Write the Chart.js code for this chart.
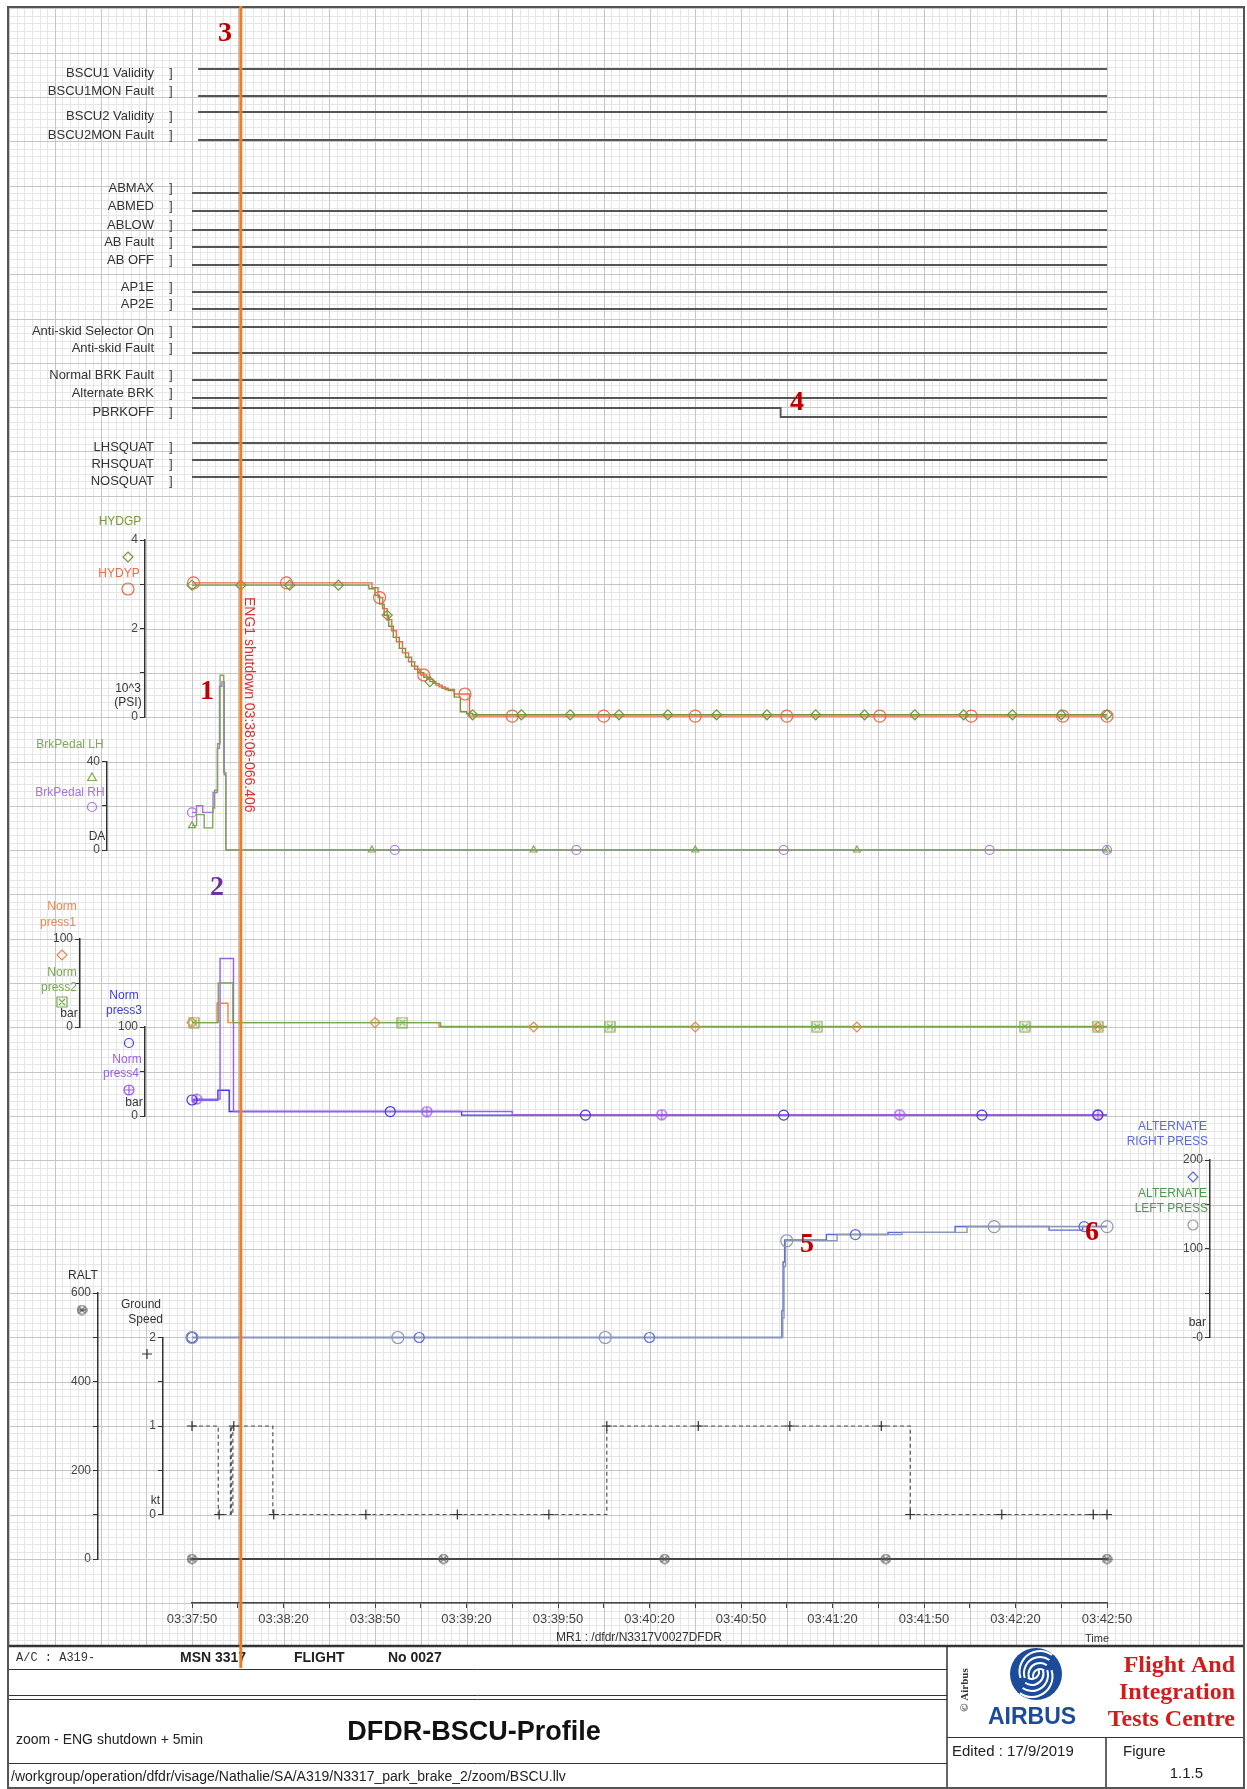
<!DOCTYPE html>
<html>
<head>
<meta charset="utf-8">
<title>DFDR-BSCU-Profile</title>
<script src="https://cdn.jsdelivr.net/npm/chart.js@4.4.1/dist/chart.umd.min.js"></script>
<style>
  html, body { margin: 0; padding: 0; background: #fff; overflow: hidden; }
  #chart { display: block; }
</style>
</head>
<body>
<canvas id="chart" width="1247" height="1789"></canvas>
<script>
// ---------- data (time = seconds after 03:37:50) ----------
const timeLabels = ['03:37:50', '03:38:20', '03:38:50', '03:39:20', '03:39:50', '03:40:20',
                    '03:40:50', '03:41:20', '03:41:50', '03:42:20', '03:42:50'];
const eventTime = 16;   // 03:38:06
const eventLabel = 'ENG1 shutdown 03:38:06-066.406';

const discreteNames = ['BSCU1 Validity', 'BSCU1MON Fault', 'BSCU2 Validity', 'BSCU2MON Fault',
  'ABMAX', 'ABMED', 'ABLOW', 'AB Fault', 'AB OFF', 'AP1E', 'AP2E',
  'Anti-skid Selector On', 'Anti-skid Fault', 'Normal BRK Fault', 'Alternate BRK', 'PBRKOFF',
  'LHSQUAT', 'RHSQUAT', 'NOSQUAT'];
// [time, state] changes of each discrete
const discreteSteps = [
  [[2, 1]], [[2, 0]], [[2, 1]], [[2, 0]],
  [[0, 0]], [[0, 0]], [[0, 0]], [[0, 0]], [[0, 0]], [[0, 0]], [[0, 0]],
  [[0, 1]], [[0, 0]], [[0, 0]], [[0, 0]], [[0, 1], [193, 0]],
  [[0, 1]], [[0, 1]], [[0, 1]]
];

// hydraulic pressures (10^3 PSI)
const hydgpT = [0, 56, 58, 60, 61.5, 63, 64.5, 66, 68, 70, 72, 74, 76, 78, 80, 82, 84, 86, 88, 90, 92, 300];
const hydgpV = [2.98, 2.98, 2.9, 2.75, 2.55, 2.3, 2.05, 1.8, 1.55, 1.35, 1.15, 1.0, 0.9, 0.8, 0.72, 0.65, 0.6, 0.45, 0.12, 0.08, 0.05, 0.05];
const hydgpMarks = [0, 16, 32, 48, 64, 78, 92, 108, 124, 140, 156, 172, 188.5, 204.5, 220.5, 237, 253, 269, 285, 300];
const hydypT = [0, 57, 59, 61, 62.5, 64, 65.5, 67, 69, 71, 73, 75, 77, 79, 81, 83, 86, 91, 300];
const hydypV = [3.03, 3.03, 2.92, 2.7, 2.45, 2.2, 1.95, 1.7, 1.45, 1.25, 1.08, 0.95, 0.85, 0.76, 0.68, 0.62, 0.52, 0.02, 0.02];
const hydypMarks = [0.5, 31, 61.5, 76, 89.5, 105, 135, 165, 195, 225.5, 255.5, 285.5, 300];

// brake pedals (DA)
const pedalLhT = [0, 1.5, 4, 6.8, 7.4, 8.4, 9.2, 10.4, 11.1, 300];
const pedalLhV = [11, 16, 10, 19, 27, 48, 79, 35, 0, 0];
const pedalLhMarks = [0, 59, 112, 165, 218, 300];
const pedalRhT = [0, 1.5, 3.5, 6.9, 8.3, 9.0, 9.8, 10.6, 11.1, 300];
const pedalRhV = [17, 20, 17, 26, 46, 74, 76, 34, 0, 0];
const pedalRhMarks = [0, 66.5, 126, 194, 261.5, 300];

// normal brake pressures (bar)
const press1T = [0, 8.2, 11.8, 81, 300];
const press1V = [5, 27, 5, 0, 0];
const press1Marks = [0, 60, 112, 165, 218, 297];
const press2T = [0, 8.6, 13.4, 81.5, 300];
const press2V = [5, 50, 5, 0.5, 0.5];
const press2Marks = [0.6, 69, 137, 205, 273, 297];
const press3T = [0, 8.5, 12.2, 88.4, 300];
const press3V = [18, 29, 5, 1, 1];
const press3Marks = [0, 65, 129, 194, 259, 297];
const press4T = [0, 0.8, 9.2, 13.6, 105, 300];
const press4V = [16, 19, 177, 5, 1.5, 1.5];
const press4Marks = [1.5, 77, 154, 232, 297];

// alternate brake pressures (bar)
const altRightT = [0, 193, 193.4, 193.8, 194.3, 208, 228.2, 250.2, 281, 292, 300];
const altRightV = [0, 0, 30, 85, 110, 116, 118.5, 125, 121, 125, 125];
const altRightMarks = [0, 74.5, 150, 217.5, 292.5];
const altLeftT = [0, 193.3, 193.7, 194.1, 194.6, 211.5, 232.8, 254.1, 300];
const altLeftV = [0, 0, 22, 80, 109, 116, 118.5, 125, 125];
const altLeftMarks = [0, 67.5, 135.5, 195, 263, 300];

// radio altitude and ground speed
const raltT = [0, 300];
const raltV = [0, 0];
const raltMarks = [0, 82.5, 155, 227.5, 300];
const gsT = [0, 8.6, 12.6, 12.9, 13.4, 26.5, 136, 235.5, 300];
const gsV = [1, 0, 1, 0, 1, 0, 1, 0, 0];
const gsMarks = [0, 8.9, 13.7, 26.8, 57, 87, 117, 136, 166, 196, 226, 235.5, 265.5, 295.5, 300];

// axis ticks
const hydTicks = [0, 1, 2, 3, 4];                 const hydTickLabels = ['0', '', '2', '', '4'];
const pedalTicks = [0, 20, 40];                   const pedalTickLabels = ['0', '', '40'];
const pressTicks = [0, 50, 100];                  const pressTickLabels = ['0', '', '100'];
const altTicks = [0, 50, 100, 150, 200];          const altTickLabels = ['-0', '', '100', '', '200'];
const raltTicks = [0, 100, 200, 300, 400, 500, 600]; const raltTickLabels = ['0', '', '200', '', '400', '', '600'];
const gsTicks = [0, 0.5, 1, 1.5, 2];              const gsTickLabels = ['0', '', '1', '', '2'];

// ---------- layout / styles ----------
const FONT = '"Liberation Sans", Arial, sans-serif';
const SERIF = '"Liberation Serif", "Times New Roman", serif';
const PAGE = {left: 8, top: 7, right: 1244, bottom: 1788, gridBottom: 1646};
const GRID_Y0 = 540, GRID_STEP = 44.3;

const C = {
  disc: '#555', axis: '#333',
  hydgp: '#76983a', hydyp: '#ea6a4a',
  lh: '#7fa858', rh: '#a970e6',
  p1: '#e8884a', p2: '#78a84c', p3: '#3c3ce0', p4: '#9c5ce8',
  altR: '#5a6ad6', altL: '#8a98b4', altLtxt: '#4c9a4c',
  ralt: '#444', gs: '#555', orange: '#f27c26'
};

const axisBoxes = {
  x:       {left: 192, right: 1107, top: 1603, bottom: 1640},
  yHyd:    {left: 95, right: 145, top: 540, bottom: 717},
  yPedal:  {left: 60, right: 107, top: 761.5, bottom: 850},
  yNorm12: {left: 30, right: 80, top: 939, bottom: 1027},
  yNorm34: {left: 95, right: 145, top: 1027, bottom: 1116},
  yAlt:    {left: 1160, right: 1210, top: 1160, bottom: 1337.5},
  yRalt:   {left: 48, right: 98, top: 1293, bottom: 1559},
  yGs:     {left: 120, right: 163, top: 1337.5, bottom: 1514.5}
};
const discreteRowY = [73.5, 91.5, 116.5, 135.5, 188.5, 206.5, 225.5, 242.5, 260.5, 287.5, 304.5,
  331.5, 348.5, 375.5, 393.5, 412.5, 447.5, 464.5, 481.5];
discreteRowY.forEach((c, i) => {
  axisBoxes['yD' + i] = {left: 150, right: 190, top: c - 4.5, bottom: c + 4.5};
});

// composite marker glyphs
function glyph(kind, color, size) {
  const c = document.createElement('canvas');
  c.width = c.height = size;
  const g = c.getContext('2d');
  const m = size / 2, r = size / 2 - 1;
  g.strokeStyle = color;
  g.lineWidth = 1.2;
  g.beginPath();
  if (kind === 'boxX') {
    g.rect(m - r, m - r, 2 * r, 2 * r);
    g.moveTo(m - r + 2, m - r + 2); g.lineTo(m + r - 2, m + r - 2);
    g.moveTo(m + r - 2, m - r + 2); g.lineTo(m - r + 2, m + r - 2);
  } else if (kind === 'circleX') {
    g.arc(m, m, r, 0, Math.PI * 2);
    g.moveTo(m - r * 0.7, m - r * 0.7); g.lineTo(m + r * 0.7, m + r * 0.7);
    g.moveTo(m + r * 0.7, m - r * 0.7); g.lineTo(m - r * 0.7, m + r * 0.7);
    g.moveTo(m - r, m); g.lineTo(m + r, m);
  } else {
    g.arc(m, m, r, 0, Math.PI * 2);
    g.moveTo(m - r, m); g.lineTo(m + r, m);
    g.moveTo(m, m - r); g.lineTo(m, m + r);
  }
  g.stroke();
  return c;
}
const boxXGreen = glyph('boxX', C.p2, 12);
const plusPurple = glyph('circlePlus', C.p4, 12);
const raltGlyph = glyph('circleX', '#555', 11);

function valueAt(t, v, x) {
  let y = v[0];
  for (let i = 0; i < t.length; i++) {
    if (t[i] <= x) y = v[i];
  }
  return y;
}

function trace(label, t, v, axis, color, extra) {
  return Object.assign({
    label, data: t.map((x, i) => ({x, y: v[i]})),
    xAxisID: 'x', yAxisID: axis, borderColor: color, borderWidth: 1.4,
    stepped: true, pointRadius: 0, fill: false, clip: false
  }, extra || {});
}

function marks(label, t, v, times, axis, color, style, r) {
  return {
    label, data: times.map(m => ({x: m, y: valueAt(t, v, m)})),
    xAxisID: 'x', yAxisID: axis, showLine: false, clip: false,
    pointStyle: style, pointRadius: r, pointBorderColor: color,
    pointBackgroundColor: 'rgba(0,0,0,0)', pointBorderWidth: 1.2
  };
}

const datasets = [
  marks('HYDGP', hydgpT, hydgpV, hydgpMarks, 'yHyd', C.hydgp, 'rectRot', 5),
  marks('HYDYP', hydypT, hydypV, hydypMarks, 'yHyd', C.hydyp, 'circle', 6),
  marks('BrkPedal LH', pedalLhT, pedalLhV, pedalLhMarks, 'yPedal', C.lh, 'triangle', 4),
  marks('BrkPedal RH', pedalRhT, pedalRhV, pedalRhMarks, 'yPedal', C.rh, 'circle', 4.5),
  marks('Norm press1', press1T, press1V, press1Marks, 'yNorm12', C.p1, 'rectRot', 5),
  marks('Norm press2', press2T, press2V, press2Marks, 'yNorm12', C.p2, boxXGreen, 6),
  marks('Norm press3', press3T, press3V, press3Marks, 'yNorm34', C.p3, 'circle', 5),
  marks('Norm press4', press4T, press4V, press4Marks, 'yNorm34', C.p4, plusPurple, 6),
  marks('ALTERNATE RIGHT PRESS', altRightT, altRightV, altRightMarks, 'yAlt', C.altR, 'circle', 5),
  marks('ALTERNATE LEFT PRESS', altLeftT, altLeftV, altLeftMarks, 'yAlt', C.altL, 'circle', 6),
  marks('RALT', raltT, raltV, raltMarks, 'yRalt', '#555', raltGlyph, 5),
  marks('Ground Speed', gsT, gsV, gsMarks, 'yGs', '#333', 'cross', 5),
  trace('HYDYP', hydypT, hydypV, 'yHyd', C.hydyp),
  trace('HYDGP', hydgpT, hydgpV, 'yHyd', C.hydgp),
  trace('BrkPedal LH', pedalLhT, pedalLhV, 'yPedal', C.lh),
  trace('BrkPedal RH', pedalRhT, pedalRhV, 'yPedal', C.rh),
  trace('Norm press2', press2T, press2V, 'yNorm12', C.p2),
  trace('Norm press1', press1T, press1V, 'yNorm12', C.p1),
  trace('Norm press4', press4T, press4V, 'yNorm34', C.p4),
  trace('Norm press3', press3T, press3V, 'yNorm34', C.p3),
  trace('ALTERNATE LEFT PRESS', altLeftT, altLeftV, 'yAlt', C.altL),
  trace('ALTERNATE RIGHT PRESS', altRightT, altRightV, 'yAlt', C.altR),
  trace('RALT', raltT, raltV, 'yRalt', C.ralt, {borderWidth: 1.8}),
  trace('Ground Speed', gsT, gsV, 'yGs', C.gs, {borderDash: [4, 3], borderWidth: 1.2})
];

discreteNames.forEach((name, i) => {
  const steps = discreteSteps[i];
  const pts = steps.map(s => ({x: s[0], y: s[1]}));
  pts.push({x: 300, y: steps[steps.length - 1][1]});
  datasets.push({
    label: name, data: pts, xAxisID: 'x', yAxisID: 'yD' + i,
    borderColor: C.disc, borderWidth: 1.8, stepped: true, pointRadius: 0, clip: false
  });
});

function yAxis(ticks, labels) {
  return {
    type: 'linear', axis: 'y', position: 'left',
    min: ticks[0], max: ticks[ticks.length - 1],
    afterBuildTicks: s => { s.ticks = ticks.map(v => ({value: v})); },
    ticks: {
      autoSkip: false, padding: 2, color: '#444',
      font: {size: 12, family: FONT},
      callback: v => labels[ticks.indexOf(v)]
    },
    grid: {drawOnChartArea: false, drawTicks: true, tickLength: 5, color: C.axis, lineWidth: 1},
    border: {display: true, color: C.axis, width: 1.5}
  };
}

const scales = {
  x: {
    type: 'linear', position: 'bottom', min: 0, max: 300,
    afterBuildTicks: s => {
      const list = [];
      for (let v = 0; v <= 300; v += 15) list.push({value: v});
      s.ticks = list;
    },
    ticks: {
      autoSkip: false, maxRotation: 0, minRotation: 0, padding: 4, color: '#444',
      font: {size: 13, family: FONT},
      callback: v => (v % 30 === 0 ? timeLabels[v / 30] : '')
    },
    grid: {drawOnChartArea: false, drawTicks: true, tickLength: 5, color: '#444', lineWidth: 1},
    border: {display: true, color: '#444', width: 1.5}
  },
  yHyd: yAxis(hydTicks, hydTickLabels),
  yPedal: yAxis(pedalTicks, pedalTickLabels),
  yNorm12: yAxis(pressTicks, pressTickLabels),
  yNorm34: yAxis(pressTicks, pressTickLabels),
  yAlt: yAxis(altTicks, altTickLabels),
  yRalt: yAxis(raltTicks, raltTickLabels),
  yGs: yAxis(gsTicks, gsTickLabels)
};
discreteNames.forEach((n, i) => {
  scales['yD' + i] = {type: 'linear', axis: 'y', position: 'left', min: 0, max: 1, display: false};
});

// ---------- plugins ----------
// every axis of the printout sits at its own place on the sheet
const placeAxes = {
  id: 'placeAxes',
  afterLayout(chart) {
    for (const id of Object.keys(axisBoxes)) {
      const s = chart.scales[id];
      const b = axisBoxes[id];
      if (!s) continue;
      s.left = b.left; s.right = b.right; s.top = b.top; s.bottom = b.bottom;
      s.width = b.right - b.left; s.height = b.bottom - b.top;
      s.configure();
    }
    chart.chartArea = {left: 0, top: 0, right: chart.width, bottom: chart.height,
                       width: chart.width, height: chart.height};
  }
};

function hline(ctx, x1, x2, y) { ctx.beginPath(); ctx.moveTo(x1, y); ctx.lineTo(x2, y); ctx.stroke(); }
function vline(ctx, x, y1, y2) { ctx.beginPath(); ctx.moveTo(x, y1); ctx.lineTo(x, y2); ctx.stroke(); }

function text(ctx, str, x, y, font, color, align) {
  ctx.font = font;
  ctx.fillStyle = color;
  ctx.textAlign = align || 'left';
  ctx.textBaseline = 'middle';
  ctx.fillText(str, x, y);
}

function drawSymbol(ctx, style, x, y, r, color) {
  ctx.save();
  if (style instanceof HTMLCanvasElement) {
    ctx.drawImage(style, x - style.width / 2, y - style.height / 2);
    ctx.restore();
    return;
  }
  ctx.strokeStyle = color;
  ctx.lineWidth = 1.2;
  ctx.beginPath();
  if (style === 'circle') {
    ctx.arc(x, y, r, 0, Math.PI * 2);
  } else if (style === 'rectRot') {
    ctx.moveTo(x, y - r); ctx.lineTo(x + r, y); ctx.lineTo(x, y + r); ctx.lineTo(x - r, y); ctx.closePath();
  } else if (style === 'triangle') {
    ctx.moveTo(x, y - r); ctx.lineTo(x + r * 0.87, y + r * 0.5); ctx.lineTo(x - r * 0.87, y + r * 0.5); ctx.closePath();
  } else if (style === 'cross') {
    ctx.moveTo(x - r, y); ctx.lineTo(x + r, y); ctx.moveTo(x, y - r); ctx.lineTo(x, y + r);
  }
  ctx.stroke();
  ctx.restore();
}

const paper = {
  id: 'paper',
  beforeDraw(chart) {
    const ctx = chart.ctx;
    const xs = chart.scales.x;
    ctx.save();
    ctx.fillStyle = '#fff';
    ctx.fillRect(0, 0, chart.width, chart.height);

    // graph paper: one line per 2.5 s, darker every 15 s
    ctx.lineWidth = 1;
    for (const major of [false, true]) {
      ctx.strokeStyle = major ? '#c6c6c6' : '#e6e6e6';
      for (let k = -30; k <= 140; k++) {
        if ((k % 6 === 0) !== major) continue;
        const px = Math.round(xs.getPixelForValue(k * 2.5)) + 0.5;
        if (px <= PAGE.left || px >= PAGE.right) continue;
        vline(ctx, px, PAGE.top, PAGE.gridBottom);
      }
      for (let k = -80; k <= 160; k++) {
        if ((k % 6 === 0) !== major) continue;
        const py = Math.round(GRID_Y0 + k * GRID_STEP / 6) + 0.5;
        if (py <= PAGE.top || py >= PAGE.gridBottom) continue;
        hline(ctx, PAGE.left, PAGE.right, py);
      }
    }

    // title block
    ctx.fillStyle = '#fff';
    ctx.fillRect(PAGE.left, PAGE.gridBottom, PAGE.right - PAGE.left, PAGE.bottom - PAGE.gridBottom);
    ctx.strokeStyle = '#333';
    ctx.lineWidth = 2.5;
    hline(ctx, PAGE.left, PAGE.right, PAGE.gridBottom);
    ctx.lineWidth = 1;
    hline(ctx, PAGE.left, 947, 1669.5);
    hline(ctx, PAGE.left, 947, 1695.5);
    hline(ctx, PAGE.left, 947, 1699.5);
    hline(ctx, PAGE.left, 947, 1763.5);
    hline(ctx, 947, PAGE.right, 1737.5);
    ctx.lineWidth = 1.5;
    vline(ctx, 947, PAGE.gridBottom, PAGE.bottom);
    vline(ctx, 1106, 1737.5, PAGE.bottom);

    // sheet border
    ctx.strokeStyle = '#555';
    ctx.lineWidth = 2;
    ctx.strokeRect(PAGE.left, PAGE.top, PAGE.right - PAGE.left, PAGE.bottom - PAGE.top);

    // title block texts
    text(ctx, 'A/C : A319-', 16, 1658, '12px "Liberation Mono", monospace', '#333');
    text(ctx, 'MSN 3317', 180, 1658, 'bold 14px ' + FONT, '#222');
    text(ctx, 'FLIGHT', 294, 1658, 'bold 14px ' + FONT, '#222');
    text(ctx, 'No 0027', 388, 1658, 'bold 14px ' + FONT, '#222');
    text(ctx, 'zoom - ENG shutdown + 5min', 16, 1740, '14px ' + FONT, '#222');
    text(ctx, 'DFDR-BSCU-Profile', 474, 1733, 'bold 27px ' + FONT, '#111', 'center');
    text(ctx, '/workgroup/operation/dfdr/visage/Nathalie/SA/A319/N3317_park_brake_2/zoom/BSCU.llv',
         11, 1777, '14px ' + FONT, '#222');
    text(ctx, 'Edited : 17/9/2019', 952, 1752, '15px ' + FONT, '#222');
    text(ctx, 'Figure', 1123, 1752, '15px ' + FONT, '#222');
    text(ctx, '1.1.5', 1203, 1774, '15px ' + FONT, '#222', 'right');

    // Airbus logo
    const lx = 1036, ly = 1674, lr = 26;
    ctx.fillStyle = '#1b4c9c';
    ctx.beginPath(); ctx.arc(lx, ly, lr, 0, Math.PI * 2); ctx.fill();
    ctx.strokeStyle = '#fff';
    ctx.lineWidth = 2;
    for (let k = 0; k < 4; k++) {
      ctx.beginPath();
      ctx.arc(lx + 4, ly + 2 - k * 1.5, 7 + k * 4.5, Math.PI * 0.9, Math.PI * 1.7);
      ctx.stroke();
      ctx.beginPath();
      ctx.arc(lx - 4, ly - 2 + k * 1.5, 7 + k * 4.5, Math.PI * 1.9, Math.PI * 2.7);
      ctx.stroke();
    }
    text(ctx, 'AIRBUS', 1032, 1718, 'bold 23px ' + FONT, '#1b4c9c', 'center');
    ctx.save();
    ctx.translate(965, 1690);
    ctx.rotate(-Math.PI / 2);
    text(ctx, '\u00A9 Airbus', 0, 0, 'bold 11px ' + SERIF, '#333', 'center');
    ctx.restore();
    text(ctx, 'Flight And', 1235, 1666, 'bold 24px ' + SERIF, '#d41c1c', 'right');
    text(ctx, 'Integration', 1235, 1693, 'bold 24px ' + SERIF, '#d41c1c', 'right');
    text(ctx, 'Tests Centre', 1235, 1720, 'bold 24px ' + SERIF, '#d41c1c', 'right');

    // file reference under the time axis
    text(ctx, 'MR1 : /dfdr/N3317V0027DFDR', 639, 1638, '12px ' + FONT, '#333', 'center');
    text(ctx, 'Time', 1097, 1639, '11px ' + FONT, '#333', 'center');
    ctx.restore();
  },

  afterDraw(chart) {
    const ctx = chart.ctx;
    const xs = chart.scales.x;
    ctx.save();
    const lab = '12px ' + FONT;

    // discrete labels
    discreteNames.forEach((name, i) => {
      text(ctx, name, 154, discreteRowY[i], '13px ' + FONT, '#333', 'right');
      text(ctx, ']', 171, discreteRowY[i], lab, '#333', 'center');
    });

    // axis titles and legend symbols
    text(ctx, 'HYDGP', 120, 522, lab, C.hydgp, 'center');
    drawSymbol(ctx, 'rectRot', 128, 557, 5, C.hydgp);
    text(ctx, 'HYDYP', 119, 574, lab, C.hydyp, 'center');
    drawSymbol(ctx, 'circle', 128, 589, 6, C.hydyp);
    text(ctx, '10^3', 128, 689, lab, '#333', 'center');
    text(ctx, '(PSI)', 128, 703, lab, '#333', 'center');

    text(ctx, 'BrkPedal LH', 70, 745, lab, C.lh, 'center');
    drawSymbol(ctx, 'triangle', 92, 778, 5, C.lh);
    text(ctx, 'BrkPedal RH', 70, 793, lab, C.rh, 'center');
    drawSymbol(ctx, 'circle', 92, 807, 4.5, C.rh);
    text(ctx, 'DA', 97, 837, lab, '#333', 'center');

    text(ctx, 'Norm', 62, 907, lab, C.p1, 'center');
    text(ctx, 'press1', 58, 923, lab, C.p1, 'center');
    drawSymbol(ctx, 'rectRot', 62, 955, 5, C.p1);
    text(ctx, 'Norm', 62, 973, lab, C.p2, 'center');
    text(ctx, 'press2', 59, 988, lab, C.p2, 'center');
    drawSymbol(ctx, boxXGreen, 62, 1002, 6, C.p2);
    text(ctx, 'bar', 69, 1014, lab, '#333', 'center');

    text(ctx, 'Norm', 124, 996, lab, C.p3, 'center');
    text(ctx, 'press3', 124, 1011, lab, C.p3, 'center');
    drawSymbol(ctx, 'circle', 129, 1043, 4.5, C.p3);
    text(ctx, 'Norm', 127, 1060, lab, C.p4, 'center');
    text(ctx, 'press4', 121, 1074, lab, C.p4, 'center');
    drawSymbol(ctx, plusPurple, 129, 1090, 6, C.p4);
    text(ctx, 'bar', 134, 1103, lab, '#333', 'center');

    text(ctx, 'ALTERNATE', 1207, 1127, lab, C.altR, 'right');
    text(ctx, 'RIGHT PRESS', 1208, 1142, lab, C.altR, 'right');
    drawSymbol(ctx, 'rectRot', 1193, 1177, 5, C.altR);
    text(ctx, 'ALTERNATE', 1207, 1194, lab, C.altLtxt, 'right');
    text(ctx, 'LEFT PRESS', 1208, 1209, lab, C.altLtxt, 'right');
    drawSymbol(ctx, 'circle', 1193, 1225, 5, '#999');
    text(ctx, 'bar', 1206, 1323, lab, '#333', 'right');

    text(ctx, 'RALT', 83, 1276, lab, '#333', 'center');
    drawSymbol(ctx, raltGlyph, 82, 1310, 5, '#555');
    text(ctx, 'Ground', 161, 1305, lab, '#333', 'right');
    text(ctx, 'Speed', 163, 1320, lab, '#333', 'right');
    drawSymbol(ctx, 'cross', 147, 1354, 5, '#333');
    text(ctx, 'kt', 160, 1501, lab, '#333', 'right');

    // engine shutdown marker
    const ex = xs.getPixelForValue(eventTime);
    ctx.strokeStyle = C.orange;
    ctx.lineWidth = 3;
    vline(ctx, ex, 6, 1668);
    ctx.save();
    ctx.translate(ex + 8, 597);
    ctx.rotate(Math.PI / 2);
    text(ctx, eventLabel, 0, 0, '14px ' + FONT, '#dd3030', 'left');
    ctx.restore();

    // numbered call-outs
    const big = 'bold 28px ' + SERIF;
    text(ctx, '1', 207, 692, big, '#c00000', 'center');
    text(ctx, '2', 217, 888, big, '#7030a0', 'center');
    text(ctx, '3', 225, 34, big, '#c00000', 'center');
    text(ctx, '4', 797, 403, big, '#c00000', 'center');
    text(ctx, '5', 807, 1245, big, '#c00000', 'center');
    text(ctx, '6', 1092, 1233, big, '#c00000', 'center');
    ctx.restore();
  }
};

Chart.defaults.font.family = FONT;

new Chart(document.getElementById('chart'), {
  type: 'line',
  data: {datasets},
  options: {
    responsive: false,
    animation: false,
    devicePixelRatio: 1,
    events: [],
    layout: {padding: 0},
    scales,
    plugins: {legend: {display: false}, tooltip: {enabled: false}}
  },
  plugins: [placeAxes, paper]
});
</script>
</body>
</html>
